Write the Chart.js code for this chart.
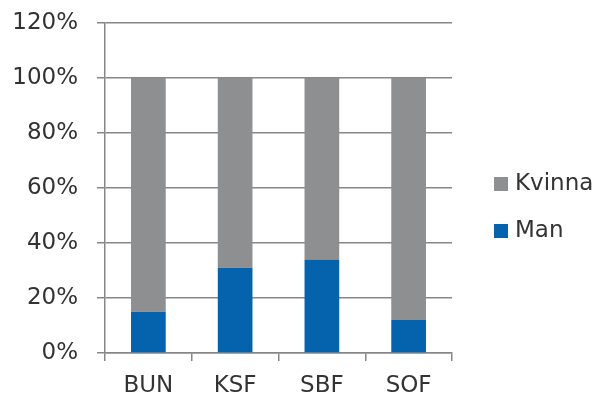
<!DOCTYPE html>
<html><head><meta charset="utf-8">
<script src="https://cdn.jsdelivr.net/npm/chart.js@4/dist/chart.umd.min.js"></script>
<style>html,body{margin:0;padding:0;background:#fff}#wrap{width:595px;height:396px}</style>
</head><body><div id="wrap"><canvas id="c" width="595" height="396"></canvas></div>
<script>
const categories = ["BUN", "KSF", "SBF", "SOF"];
const manValues = [15, 31, 34, 12];
const kvinnaValues = [85, 69, 66, 88];
const yTicks = [0, 20, 40, 60, 80, 100, 120];
const seriesNames = ["Man", "Kvinna"];

const FONT = "'DejaVu Sans', sans-serif";
const gridColor = '#878787';

const legendPlugin = {
  id: 'customLegend',
  afterDraw(chart) {
    const ctx = chart.ctx;
    const ds = chart.data.datasets;
    const items = [ds[1], ds[0]];
    const ys = [184, 231];
    ctx.save();
    ctx.font = "23px " + FONT;
    ctx.textBaseline = 'middle';
    items.forEach((d, i) => {
      ctx.fillStyle = d.backgroundColor;
      ctx.fillRect(494, ys[i] - 7, 14, 14);
      ctx.fillStyle = '#333333';
      ctx.fillText(d.label, 515, ys[i]);
    });
    ctx.restore();
  }
};

new Chart(document.getElementById('c'), {
  type: 'bar',
  data: {
    labels: categories,
    datasets: [
      { label: seriesNames[0], data: manValues, backgroundColor: '#0563AE', categoryPercentage: 1, barPercentage: 0.4 },
      { label: seriesNames[1], data: kvinnaValues, backgroundColor: '#8E8F91', categoryPercentage: 1, barPercentage: 0.4 }
    ]
  },
  options: {
    responsive: false,
    animation: false,
    devicePixelRatio: 1,
    layout: { autoPadding: false, padding: { left: 0, right: 143, top: 23, bottom: 0 } },
    plugins: { legend: { display: false }, tooltip: { enabled: false } },
    scales: {
      x: {
        stacked: true,
        afterFit(s) { s.height = 43; s.paddingLeft = 0; s.paddingRight = 0; },
        grid: { drawOnChartArea: false, drawTicks: true, tickLength: 8, color: gridColor, lineWidth: 1.5, offset: true },
        border: { color: gridColor, width: 1.5 },
        ticks: { color: '#333333', font: { family: FONT, size: 23 }, padding: 11 }
      },
      y: {
        stacked: true,
        min: 0, max: 120,
        afterFit(s) { s.width = 105; s.paddingTop = 0; s.paddingBottom = 0; },
        afterBuildTicks(s) { s.ticks = yTicks.map(v => ({ value: v })); },
        grid: { color: gridColor, lineWidth: 1.5, tickLength: 8 },
        border: { color: gridColor, width: 1.5 },
        ticks: { color: '#333333', font: { family: FONT, size: 23 }, padding: 19, callback: v => v + '%' }
      }
    }
  },
  plugins: [legendPlugin]
});
</script></body></html>
